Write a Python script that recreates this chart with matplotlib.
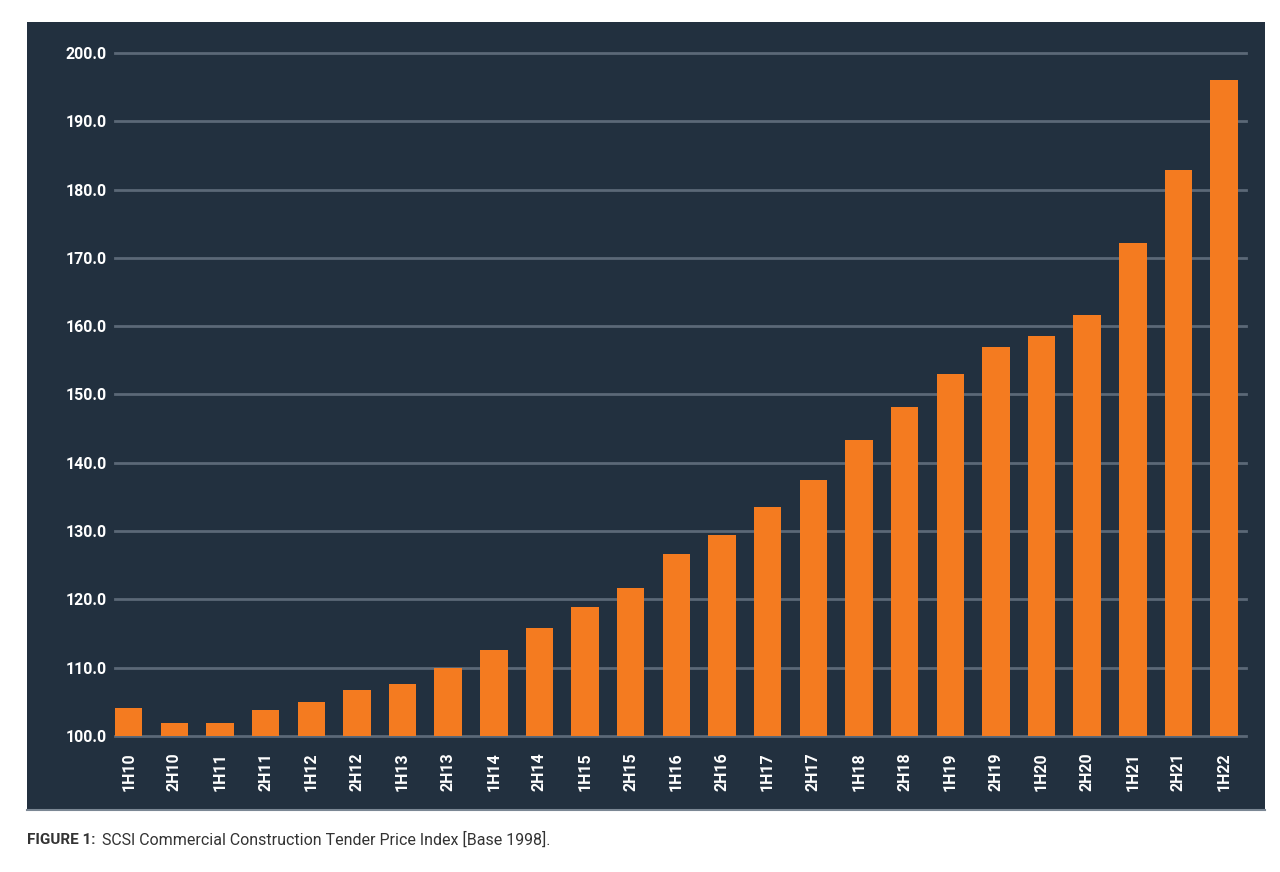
import matplotlib
matplotlib.use("Agg")
import matplotlib.pyplot as plt
from matplotlib.patches import Rectangle

categories = ["1H10", "2H10", "1H11", "2H11", "1H12", "2H12", "1H13", "2H13",
              "1H14", "2H14", "1H15", "2H15", "1H16", "2H16", "1H17", "2H17",
              "1H18", "2H18", "1H19", "2H19", "1H20", "2H20", "1H21", "2H21", "1H22"]
values = [104.1, 101.9, 101.9, 103.8, 105.0, 106.7, 107.6, 110.0,
          112.6, 115.8, 118.9, 121.7, 126.7, 129.5, 133.6, 137.5,
          143.3, 148.2, 153.0, 156.9, 158.5, 161.6, 172.2, 182.8, 196.1]
yticks = [100, 110, 120, 130, 140, 150, 160, 170, 180, 190, 200]

BG = "#22303f"
ORANGE = "#f47b20"
GRID = "#5b6877"

W, H = 1280, 872
fig = plt.figure(figsize=(W / 100, H / 100), dpi=100, facecolor="white")

# dark panel
panel = Rectangle((27 / W, (H - 810) / H), (1265 - 27) / W, (810 - 22) / H,
                  transform=fig.transFigure, facecolor=BG, edgecolor="none", zorder=-5)
fig.patches.append(panel)
fig.add_artist(plt.Line2D([27 / W, 1265 / W], [(H - 810) / H] * 2,
                          transform=fig.transFigure, color="#7b8794", lw=1.5, zorder=-4))

ax_left, ax_right = 115, 1246
ax_top, ax_bot = 53, 736
ax = fig.add_axes([ax_left / W, (H - ax_bot) / H, (ax_right - ax_left) / W, (ax_bot - ax_top) / H])
ax.set_facecolor("none")
ax.set_zorder(2)

x = list(range(len(categories)))
ax.bar(x, values, width=0.6, color=ORANGE, bottom=0, zorder=3)
ax.set_ylim(100, 200)
ax.set_xlim(-0.3, len(categories) - 1 + 0.48)

ax.set_yticks(yticks)
ax.set_yticklabels([f"{v:.1f}" for v in yticks])
ax.set_xticks(x)
ax.set_xticklabels(categories, rotation=90)

for t in ax.get_yticklabels() + ax.get_xticklabels():
    t.set_fontfamily("Roboto")
    t.set_fontweight("bold")
    t.set_color("white")
    t.set_fontsize(11.5)

ax.tick_params(axis="y", length=0, pad=6)
ax.tick_params(axis="x", length=0, pad=12)

for s in ax.spines.values():
    s.set_visible(False)

for v in yticks:
    ax.axhline(v, color=GRID, lw=2, zorder=2, clip_on=False)

fig.text(27 / W, (H - 840) / H, "FIGURE 1:", fontfamily="Roboto", fontweight="bold",
         fontsize=11, color="#333333", va="center", ha="left")
fig.text(102 / W, (H - 840) / H, "SCSI Commercial Construction Tender Price Index [Base 1998].",
         fontfamily="Roboto", fontsize=11.5, color="#333333", va="center", ha="left")

fig.savefig("out.png", dpi=100, facecolor="white")
